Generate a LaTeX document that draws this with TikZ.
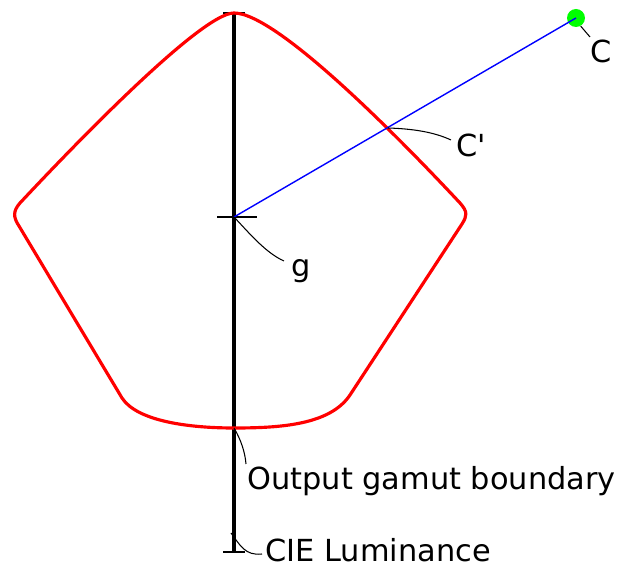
\documentclass[tikz,border=0pt]{standalone}
\usepackage{fontspec}
\setmainfont{DejaVu Sans}
\usetikzlibrary{positioning}

\begin{document}
\begin{tikzpicture}[x=0.02cm,y=-0.02cm,
  lbl/.style={anchor=base west,inner sep=0pt,font=\fontsize{17.3}{20}\selectfont},
  leader/.style={line width=0.6pt},
  tickmark/.style={line width=0.8pt}]
\useasboundingbox (0,0) rectangle (623,567);

% Luminance axis
\coordinate (top) at (234,13);
\coordinate (bot) at (234,552);
\coordinate (g) at (234,217);
\coordinate (bnd) at (234,428);
\draw[line width=2pt] (top) -- (bot);
\draw[tickmark] (223,13) -- (245,13);
\draw[tickmark] (223,552) -- (245,552);
\draw[tickmark] (217,217) -- (257,217);

% Output gamut boundary
\draw[red,line width=1.8pt] (234,13) .. controls (280,13) and (418,158) .. (460,203)
  .. controls (468,212) and (467,216) .. (462,224) -- (350,395)
  .. controls (330,425) and (280,428) .. (234,428)
  .. controls (188,428) and (137,421) .. (122,398) -- (19,226)
  .. controls (13,217) and (13,211) .. (20,203)
  .. controls (62,158) and (200,13) .. (234,13) -- cycle;

% Colour and its mapping
\node[circle,fill=green,inner sep=0pt,minimum size=0.36cm] (C) at (576,18) {};
\coordinate (Cp) at (388,128);
\draw[blue,line width=0.8pt] (g) -- (C.center);

% Labels
\node[lbl] (Clbl) at (590,63) {C};
\node[lbl] (Cplbl) at (456,157) {C\textquotesingle};
\node[lbl] (glbl) at (291,277) {g};
\node[lbl] (outlbl) at (247,490) {Output gamut boundary};
\node[lbl] (cielbl) at (265,562) {CIE Luminance};

% Leaders
\coordinate (Cend) at (590,37);
\coordinate (Cpend) at (451,140);
\coordinate (gend) at (284,261);
\coordinate (outend) at (246,464);
\coordinate (ciestart) at (231,533);
\coordinate (cieend) at (262,554);
\draw[leader] (C.-60) -- (Cend);
\draw[leader] (Cp) .. controls (420,129) and (438,134) .. (Cpend);
\draw[leader] (g) .. controls (250,234) and (266,253) .. (gend);
\draw[leader] (bnd) .. controls (241,440) and (245,452) .. (outend);
\draw[leader] (ciestart) .. controls (240,545) and (245,556) .. (cieend);
\end{tikzpicture}
\end{document}
